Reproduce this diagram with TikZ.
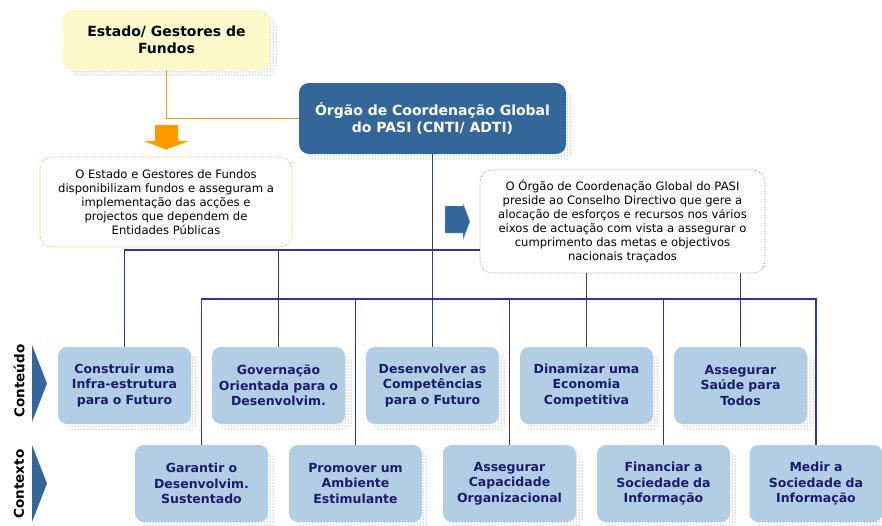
\documentclass[tikz,border=0pt]{standalone}
\usepackage{fontspec}
\setmainfont{DejaVu Sans}
\usetikzlibrary{positioning,shadows,patterns}

\definecolor{navy}{HTML}{1C1C6E}
\definecolor{pasiblue}{HTML}{336699}
\definecolor{linkblue}{HTML}{333399}
\definecolor{boxblue}{HTML}{B3CDE5}
\definecolor{paleyellow}{HTML}{FBF9C9}
\definecolor{orangeline}{HTML}{FF9900}

\tikzset{
  dotshadow/.style={general shadow={shadow xshift=7pt,shadow yshift=-7pt,pattern=dots,pattern color=black!60}},
  topbox/.style={rectangle,rounded corners=10pt,font=\fontsize{14}{17}\selectfont\bfseries,align=center,inner sep=2pt,dotshadow},
  infobox/.style={rectangle,rounded corners=12pt,fill=white,densely dotted,line width=0.6pt,font=\fontsize{11.6}{14}\selectfont,align=center,inner sep=2pt},
  axebox/.style={rectangle,rounded corners=9pt,fill=boxblue,text=navy,font=\fontsize{12.5}{15.5}\selectfont\bfseries,minimum width=133pt,minimum height=77pt,text width=127pt,align=center,inner sep=2pt,dotshadow},
  link/.style={draw=linkblue,line width=1.2pt},
  sidelabel/.style={rotate=90,font=\fontsize{13.5}{16}\selectfont\bfseries}
}

\begin{document}
\begin{tikzpicture}[x=1pt,y=-1pt]
\useasboundingbox (0,0) rectangle (882,525);

% top boxes
\node [topbox,fill=paleyellow,minimum width=207pt,minimum height=60pt] (est) at (166.5,40) {Estado/ Gestores de\\Fundos};
\node [topbox,fill=pasiblue,text=white,minimum width=267pt,minimum height=71pt] (org) at (432.5,118.5) {Órgão de Coordenação Global\\do PASI (CNTI/ ADTI)};
\draw [orangeline,line width=1.3pt] (est.south) |- (org.west);

% explanations
\node [infobox,draw=orangeline,minimum width=252pt,minimum height=90pt] (infoEst) at (166,202)
  {O Estado e Gestores de Fundos\\disponibilizam fundos e asseguram a\\implementação das acções e\\projectos que dependem de\\Entidades Públicas};
\node [infobox,draw=black!45,minimum width=285pt,minimum height=103pt] (infoOrg) at (622.5,221.5)
  {O Órgão de Coordenação Global do PASI\\preside ao Conselho Directivo que gere a\\alocação de esforços e recursos nos vários\\eixos de actuação com vista a assegurar o\\cumprimento das metas e objectivos\\nacionais traçados};

\fill [orangeline,draw=yellow!70!orange] (155,125) -- (178,125) -- (178,141) -- (189,141) -- (166,149.5) -- (144,141) -- (155,141) -- cycle;
\fill [pasiblue,draw=pasiblue!40] (445,206) -- (463,206) -- (463,203) -- (470,221.5) -- (463,240) -- (463,233) -- (445,233) -- cycle;

% side labels
\fill [pasiblue] (32,345) -- (47,383.5) -- (32,422) -- cycle;
\fill [pasiblue] (32,445) -- (47,483.5) -- (32,522) -- cycle;
\node [sidelabel] (conteudo) at (19,381) {Conteúdo};
\node [sidelabel] (contexto) at (19,484) {Contexto};

% axes
\foreach\i/\cx/\txt in {1/124.5/{Construir uma\\Infra-estrutura\\para o Futuro},2/278.5/{Governação\\Orientada para o\\Desenvolvim.},3/432.5/{Desenvolver as\\Competências\\para o Futuro},4/586.5/{Dinamizar uma\\Economia\\Competitiva},5/740.5/{Assegurar\\Saúde para\\Todos}}
  \node [axebox] (c\i) at (\cx,385.5) {\txt};
\foreach\i/\cx/\txt in {1/201.5/{Garantir o\\Desenvolvim.\\Sustentado},2/355.5/{Promover um\\Ambiente\\Estimulante},3/509.5/{Assegurar\\Capacidade\\Organizacional},4/663.5/{Financiar a\\Sociedade da\\Informação},5/816/{Medir a\\Sociedade da\\Informação}}
  \node [axebox] (k\i) at (\cx,483.5) {\txt};

% connectors
\coordinate (h1) at (0,250);
\coordinate (h2) at (0,299);
\draw [link] (org) -- (c3);
\draw [link] (c1.north) |- (infoOrg.west |- h1);
\draw [link] (c2.north) -- (c2.north |- h1);
\draw [link] (k1.north) |- (k5.north |- h2) -- (k5.north);
\foreach\i in {2,3,4}
  \draw [link] (k\i.north) -- (k\i.north |- h2);
\foreach\i in {4,5}
  \draw [link] (infoOrg.south -| c\i.north) -- (c\i.north);
\end{tikzpicture}
\end{document}
